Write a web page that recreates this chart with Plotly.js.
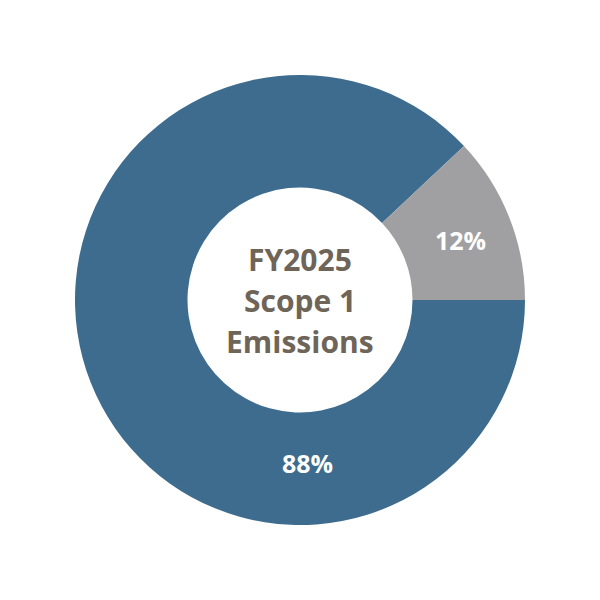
<!DOCTYPE html>
<html>
<head>
<meta charset="utf-8">
<script src="https://cdn.plot.ly/plotly-3.0.1.min.js"></script>
<style>
  html, body { margin: 0; padding: 0; background: #fff; }
  #chart { width: 600px; height: 600px; }
</style>
</head>
<body>
<div id="chart"></div>
<script>
// slice data: the big slice starts at 3 o'clock and runs clockwise, gray closes the ring
let categories = ["Main", "Other"];
let shares = [88, 12];
let sliceColors = ["#3d6c8e", "#a0a0a3"];
let shareLabels = ["88%", "12%"];
let centerLines = ["FY2025", "Scope 1", "Emissions"];

let trace = {
    type: "pie",
    labels: categories,
    values: shares,
    sort: false,
    direction: "clockwise",
    rotation: 90,
    hole: 0.5,
    marker: { colors: sliceColors, line: { width: 0 } },
    textinfo: "none",
    hoverinfo: "none",
    showlegend: false
};

// label spots in paper coords (the big slice label sits at the bottom, not mid-angle)
let labelSpots = [{ x: 0.516, y: 0.138 }, { x: 0.857, y: 0.633 }];

let annotations = shareLabels.map((t, i) => ({
    text: "<b>" + t + "</b>",
    x: labelSpots[i].x, y: labelSpots[i].y,
    xref: "paper", yref: "paper",
    xanchor: "center", yanchor: "middle",
    showarrow: false,
    font: { family: "Open Sans", size: 25, color: "#ffffff" }
}));

// centre title, one annotation per line so the spacing can be set
let lineGap = 41 / 450;
centerLines.forEach((l, i) => {
    annotations.push({
        text: "<b>" + l + "</b>",
        x: 0.5, y: 0.5 + (1 - i) * lineGap,
        xref: "paper", yref: "paper",
        xanchor: "center", yanchor: "middle",
        showarrow: false,
        font: { family: "Open Sans", size: 30, color: "#6e6558" }
    });
});

let layout = {
    width: 600,
    height: 600,
    margin: { l: 75, r: 75, t: 75, b: 75 },
    paper_bgcolor: "#ffffff",
    annotations: annotations
};

Plotly.newPlot("chart", [trace], layout, { displayModeBar: false, staticPlot: true });
</script>
</body>
</html>
